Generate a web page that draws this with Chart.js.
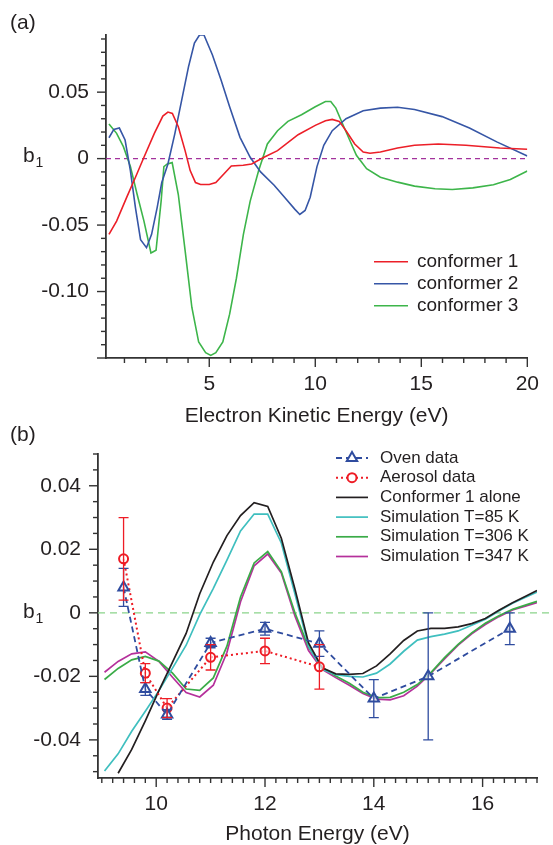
<!DOCTYPE html>
<html>
<head>
<meta charset="utf-8">
<script src="https://cdn.jsdelivr.net/npm/chart.js@4.4.1/dist/chart.umd.min.js"></script>
<style>
  html, body { margin: 0; padding: 0; background: #fff; }
  #wrap { position: relative; width: 553px; height: 845px; overflow: hidden; }
  #chartA { position: absolute; left: 0; top: 0; }
  #chartB { position: absolute; left: 0; top: 420px; }
</style>
</head>
<body>
<div id="wrap">
  <canvas id="chartA" width="553" height="430"></canvas>
  <canvas id="chartB" width="553" height="425"></canvas>
</div>
<script>
// ---- panel (a): b1 vs electron kinetic energy, three conformers
var conf1E = [0.27, 0.63, 1.11, 1.52, 1.92, 2.41, 2.81, 3.05, 3.26, 3.54, 3.86, 4.1, 4.35, 4.59, 5.0, 5.31, 5.72, 6.04, 6.6, 7.0, 7.58, 8.22, 9.19, 10.0, 10.48, 10.8, 11.13, 11.45, 11.86, 12.26, 12.58, 13.07, 13.88, 14.68, 15.8, 17.1, 18.7, 20.0];
var conf1B = [-0.057, -0.047, -0.029, -0.014, 0.001, 0.019, 0.032, 0.035, 0.034, 0.024, 0.006, -0.009, -0.018, -0.0195, -0.0195, -0.018, -0.011, -0.0055, -0.005, -0.004, 0.001, 0.006, 0.018, 0.025, 0.0285, 0.0295, 0.028, 0.021, 0.011, 0.005, 0.004, 0.005, 0.008, 0.010, 0.011, 0.010, 0.008, 0.007];

var conf2E = [0.27, 0.5, 0.76, 1.03, 1.28, 1.52, 1.76, 2.04, 2.28, 2.54, 2.76, 3.05, 3.38, 3.7, 4.02, 4.3, 4.54, 4.75, 5.15, 5.56, 5.96, 6.45, 6.93, 7.42, 8.06, 8.55, 9.03, 9.27, 9.52, 9.76, 10.08, 10.4, 10.8, 11.45, 12.26, 13.07, 13.88, 14.68, 15.98, 17.27, 18.56, 20.0];
var conf2B = [0.0157, 0.022, 0.023, 0.014, -0.009, -0.037, -0.061, -0.067, -0.057, -0.037, -0.018, -0.004, 0.019, 0.044, 0.069, 0.087, 0.093, 0.093, 0.078, 0.059, 0.039, 0.016, 0.001, -0.010, -0.020, -0.029, -0.038, -0.042, -0.039, -0.029, -0.006, 0.010, 0.021, 0.030, 0.036, 0.038, 0.0386, 0.037, 0.0316, 0.023, 0.0126, 0.002];

var conf3E = [0.27, 0.63, 0.95, 1.28, 1.6, 1.92, 2.25, 2.49, 2.73, 2.86, 3.02, 3.25, 3.54, 3.86, 4.18, 4.5, 4.83, 5.07, 5.31, 5.64, 5.96, 6.28, 6.61, 6.93, 7.33, 7.74, 8.22, 8.71, 9.35, 10.0, 10.48, 10.73, 10.97, 11.29, 11.62, 11.94, 12.42, 13.07, 13.88, 14.68, 15.65, 16.46, 17.43, 18.4, 19.2, 20.0];
var conf3B = [0.026, 0.019, 0.009, -0.006, -0.027, -0.047, -0.071, -0.069, -0.032, -0.006, -0.004, -0.003, -0.027, -0.069, -0.112, -0.138, -0.146, -0.148, -0.146, -0.138, -0.117, -0.090, -0.057, -0.032, -0.009, 0.011, 0.021, 0.028, 0.033, 0.039, 0.043, 0.043, 0.038, 0.026, 0.014, 0.0025, -0.0076, -0.014, -0.0177, -0.0207, -0.0227, -0.0232, -0.022, -0.0197, -0.0157, -0.0093];

var xTicksA = [5, 10, 15, 20];
var yTicksA = [-0.10, -0.05, 0, 0.05];

// ---- panel (b): b1 vs photon energy
var photonE = [9.05, 9.3, 9.55, 9.8, 10.05, 10.3, 10.55, 10.8, 11.05, 11.3, 11.55, 11.8, 12.05, 12.3, 12.55, 12.8, 13.05, 13.3, 13.55, 13.8, 14.05, 14.3, 14.55, 14.8, 15.05, 15.3, 15.55, 15.8, 16.05, 16.3, 16.55, 16.8, 17.0];
var conf1Alone = [null, -0.0505, -0.043, -0.034, -0.0245, -0.0155, -0.0065, 0.006, 0.016, 0.0243, 0.0306, 0.0347, 0.0335, 0.0235, 0.0075, -0.0095, -0.0173, -0.0192, -0.0194, -0.0191, -0.0167, -0.0129, -0.0087, -0.0057, -0.0049, -0.0049, -0.0044, -0.0034, -0.0018, 0.0008, 0.0032, 0.0053, 0.007];
var sim85 = [-0.0498, -0.0444, -0.0373, -0.031, -0.0245, -0.0174, -0.0102, -0.0006, 0.0077, 0.0166, 0.0258, 0.0311, 0.0311, 0.022, 0.006, -0.0105, -0.0178, -0.0195, -0.0200, -0.0202, -0.0190, -0.0161, -0.0121, -0.0086, -0.0075, -0.0067, -0.0057, -0.0039, -0.0020, 0.0006, 0.0030, 0.0050, 0.0065];
var sim306 = [-0.021, -0.0175, -0.0148, -0.0137, -0.0152, -0.019, -0.024, -0.0244, -0.0205, -0.0105, 0.005, 0.0157, 0.0193, 0.013, 0.0, -0.0108, -0.0172, -0.0199, -0.0222, -0.025, -0.0267, -0.0266, -0.025, -0.0226, -0.0188, -0.0141, -0.0099, -0.0063, -0.0033, -0.0009, 0.0011, 0.0025, 0.0036];
var sim347 = [-0.0187, -0.0153, -0.0129, -0.0123, -0.0153, -0.0203, -0.0251, -0.0265, -0.0228, -0.0125, 0.0035, 0.0148, 0.0185, 0.0125, -0.001, -0.0119, -0.0178, -0.0204, -0.0228, -0.0254, -0.0272, -0.0274, -0.0261, -0.0231, -0.019, -0.0145, -0.0102, -0.0066, -0.0037, -0.0012, 0.0009, 0.0022, 0.0032];

var ovenE = [9.4, 9.8, 10.2, 11, 12, 13, 14, 15, 16.5];
var ovenB = [0.008, -0.024, -0.032, -0.0095, -0.005, -0.0097, -0.027, -0.020, -0.005];
var ovenErr = [0.006, 0.002, 0.0015, 0.0015, 0.002, 0.004, 0.006, 0.020, 0.005];

var aeroE = [9.4, 9.8, 10.2, 11, 12, 13];
var aeroB = [0.017, -0.019, -0.030, -0.014, -0.012, -0.017];
var aeroErr = [0.013, 0.003, 0.003, 0.004, 0.004, 0.007];

var xTicksB = [10, 12, 14, 16];
var yTicksB = [-0.04, -0.02, 0, 0.02, 0.04];

var FONT = '"Liberation Sans", Arial, Helvetica, sans-serif';
var INK = '#231f20';
Chart.defaults.font.family = FONT;
Chart.defaults.color = INK;

function pts(xs, ys) {
    return xs.map(function (x, i) { return { x: x, y: ys[i] }; });
}

function fmt(v) {
    if (Math.abs(v) < 1e-12) return '0';
    return v.toFixed(2);
}

// minor / major tick marks drawn from the scales
function drawTicks(ctx, scale, ca, minor, major, horiz) {
    var start = Math.ceil(scale.min / minor - 1e-6);
    var end = Math.floor(scale.max / minor + 1e-6);
    for (var k = start; k <= end; k++) {
        var v = Math.round(k * minor * 1e6) / 1e6;
        var isMajor = Math.abs(v / major - Math.round(v / major)) < 1e-6;
        var len = isMajor ? 9 : 5;
        var p = scale.getPixelForValue(v);
        ctx.beginPath();
        if (horiz) { ctx.moveTo(p, ca.bottom); ctx.lineTo(p, ca.bottom + len); }
        else { ctx.moveTo(ca.left, p); ctx.lineTo(ca.left - len, p); }
        ctx.stroke();
    }
}

function drawLegend(chart, lg) {
    var ctx = chart.ctx;
    ctx.save();
    ctx.font = lg.size + 'px ' + FONT;
    ctx.textBaseline = 'middle';
    lg.order.forEach(function (di, i) {
        var ds = chart.data.datasets[di];
        var yy = lg.y + i * lg.gap;
        ctx.save();
        ctx.strokeStyle = ds.borderColor;
        ctx.lineWidth = ds.borderWidth;
        ctx.setLineDash(ds.borderDash || []);
        ctx.beginPath();
        ctx.moveTo(lg.x, yy);
        ctx.lineTo(lg.x + lg.len, yy);
        ctx.stroke();
        if (ds.pointRadius) {
            ctx.setLineDash([]);
            ctx.fillStyle = '#fff';
            ctx.strokeStyle = ds.pointBorderColor;
            ctx.lineWidth = ds.pointBorderWidth;
            Chart.helpers.drawPoint(ctx, { pointStyle: ds.pointStyle, radius: ds.pointRadius, borderWidth: ds.pointBorderWidth, rotation: 0 }, lg.x + lg.len / 2, yy);
        }
        ctx.restore();
        ctx.fillStyle = INK;
        ctx.fillText(ds.label, lg.x + lg.len + lg.textGap, yy);
    });
    ctx.restore();
}

var decor = {
    id: 'decor',
    beforeDatasetsDraw: function (chart, args, o) {
        var ctx = chart.ctx, ca = chart.chartArea, y = chart.scales.y;
        var y0 = y.getPixelForValue(0);
        ctx.save();
        ctx.strokeStyle = o.zeroColor;
        ctx.lineWidth = 1.3;
        ctx.setLineDash(o.zeroDash);
        ctx.beginPath();
        ctx.moveTo(ca.left, y0);
        ctx.lineTo(o.zeroToEdge ? chart.width : ca.right, y0);
        ctx.stroke();
        ctx.restore();
    },
    afterDatasetsDraw: function (chart) {
        var ctx = chart.ctx, y = chart.scales.y;
        chart.data.datasets.forEach(function (ds, di) {
            if (!ds.errors) return;
            var meta = chart.getDatasetMeta(di);
            ctx.save();
            ctx.strokeStyle = ds.borderColor;
            ctx.lineWidth = 1.3;
            meta.data.forEach(function (el, i) {
                var v = ds.data[i].y, e = ds.errors[i];
                var y1 = y.getPixelForValue(v + e), y2 = y.getPixelForValue(v - e);
                ctx.beginPath();
                ctx.moveTo(el.x, y1); ctx.lineTo(el.x, y2);
                ctx.moveTo(el.x - 5, y1); ctx.lineTo(el.x + 5, y1);
                ctx.moveTo(el.x - 5, y2); ctx.lineTo(el.x + 5, y2);
                ctx.stroke();
            });
            ctx.restore();
        });
    },
    afterDraw: function (chart, args, o) {
        var ctx = chart.ctx, ca = chart.chartArea;
        ctx.save();
        ctx.strokeStyle = '#333';
        ctx.lineWidth = 1.4;
        drawTicks(ctx, chart.scales.x, ca, o.xMinor, o.xMajor, true);
        drawTicks(ctx, chart.scales.y, ca, o.yMinor, o.yMajor, false);
        ctx.restore();

        // panel letter and b1 label
        ctx.save();
        ctx.fillStyle = INK;
        ctx.textBaseline = 'alphabetic';
        ctx.font = '21px ' + FONT;
        ctx.fillText(o.panel, 10, o.panelY);
        ctx.fillText('b', 23, o.bY);
        ctx.font = '14px ' + FONT;
        ctx.fillText('1', 35.5, o.bY + 5);
        ctx.restore();

        drawLegend(chart, o.legend);
    }
};

function axes(xMin, xMax, xTicks, yMin, yMax, yTicks, yWidth, xHeight, xTitle) {
    return {
        x: {
            type: 'linear', min: xMin, max: xMax,
            afterBuildTicks: function (s) { s.ticks = xTicks.map(function (v) { return { value: v }; }); },
            afterFit: function (s) { s.height = xHeight; },
            grid: { display: false, drawTicks: false },
            border: { display: true, color: '#333', width: 1.8 },
            ticks: { font: { size: 21 }, color: INK, padding: 14, autoSkip: false, maxRotation: 0,
                callback: function (v) { return String(v); } },
            title: { display: true, text: xTitle, font: { size: 21, lineHeight: 1 }, color: INK, padding: 0 }
        },
        y: {
            type: 'linear', min: yMin, max: yMax,
            afterBuildTicks: function (s) { s.ticks = yTicks.map(function (v) { return { value: v }; }); },
            afterFit: function (s) { s.width = yWidth; },
            grid: { display: false, drawTicks: false },
            border: { display: true, color: '#333', width: 1.8 },
            ticks: { font: { size: 21 }, color: INK, padding: 17, autoSkip: false, callback: fmt }
        }
    };
}

new Chart(document.getElementById('chartA'), {
    type: 'line',
    data: {
        datasets: [
            { label: 'conformer 1', data: pts(conf1E, conf1B), borderColor: '#ec1f28', borderWidth: 1.6, pointRadius: 0, tension: 0 },
            { label: 'conformer 2', data: pts(conf2E, conf2B), borderColor: '#3656a6', borderWidth: 1.6, pointRadius: 0, tension: 0 },
            { label: 'conformer 3', data: pts(conf3E, conf3B), borderColor: '#3db54a', borderWidth: 1.6, pointRadius: 0, tension: 0 }
        ]
    },
    options: {
        responsive: false,
        animation: false,
        devicePixelRatio: 1,
        events: [],
        layout: { padding: { left: 0, right: 14, top: 35, bottom: 3 } },
        scales: axes(0.13, 20, xTicksA, -0.150, 0.093, yTicksA, 106, 69, 'Electron Kinetic Energy (eV)'),
        plugins: {
            legend: { display: false },
            tooltip: { enabled: false },
            decor: {
                zeroColor: '#a3329c', zeroDash: [5, 4], zeroToEdge: false,
                xMinor: 1, xMajor: 5, yMinor: 0.01, yMajor: 0.05,
                panel: '(a)', panelY: 29, bY: 161.5,
                legend: { x: 374, y: 261.7, gap: 22, len: 34, textGap: 9, size: 19, order: [0, 1, 2] }
            }
        }
    },
    plugins: [decor]
});

new Chart(document.getElementById('chartB'), {
    type: 'line',
    data: {
        datasets: [
            { label: 'Oven data', data: pts(ovenE, ovenB), errors: ovenErr, borderColor: '#2f4c9f', borderWidth: 1.8, borderDash: [6, 4],
              pointStyle: 'triangle', pointRadius: 6, pointBorderWidth: 2, pointBorderColor: '#2f4c9f', pointBackgroundColor: 'rgba(255,255,255,0.7)', tension: 0, order: 0 },
            { label: 'Aerosol data', data: pts(aeroE, aeroB), errors: aeroErr, borderColor: '#ee1c25', borderWidth: 2, borderDash: [2, 3],
              pointStyle: 'circle', pointRadius: 4.5, pointBorderWidth: 2, pointBorderColor: '#ee1c25', pointBackgroundColor: 'rgba(255,255,255,0.7)', tension: 0, order: 1 },
            { label: 'Conformer 1 alone', data: pts(photonE, conf1Alone), borderColor: '#231f20', borderWidth: 1.7, pointRadius: 0, tension: 0, order: 2 },
            { label: 'Simulation T=85 K', data: pts(photonE, sim85), borderColor: '#3fbfbf', borderWidth: 1.7, pointRadius: 0, tension: 0, order: 3 },
            { label: 'Simulation T=306 K', data: pts(photonE, sim306), borderColor: '#3aab47', borderWidth: 1.7, pointRadius: 0, tension: 0, order: 4 },
            { label: 'Simulation T=347 K', data: pts(photonE, sim347), borderColor: '#b5309b', borderWidth: 1.7, pointRadius: 0, tension: 0, order: 5 }
        ]
    },
    options: {
        responsive: false,
        animation: false,
        devicePixelRatio: 1,
        events: [],
        spanGaps: false,
        layout: { padding: { left: 0, right: 16, top: 34, bottom: 0 } },
        scales: axes(8.93, 17, xTicksB, -0.052, 0.050, yTicksB, 98, 67, 'Photon Energy (eV)'),
        plugins: {
            legend: { display: false },
            tooltip: { enabled: false },
            decor: {
                zeroColor: '#8ad48a', zeroDash: [7, 5], zeroToEdge: true,
                xMinor: 0.2, xMajor: 2, yMinor: 0.005, yMajor: 0.02,
                panel: '(b)', panelY: 21, bY: 198,
                legend: { x: 336, y: 38, gap: 19.7, len: 32, textGap: 12, size: 17, order: [0, 1, 2, 3, 4, 5] }
            }
        }
    },
    plugins: [decor]
});
</script>
</body>
</html>
